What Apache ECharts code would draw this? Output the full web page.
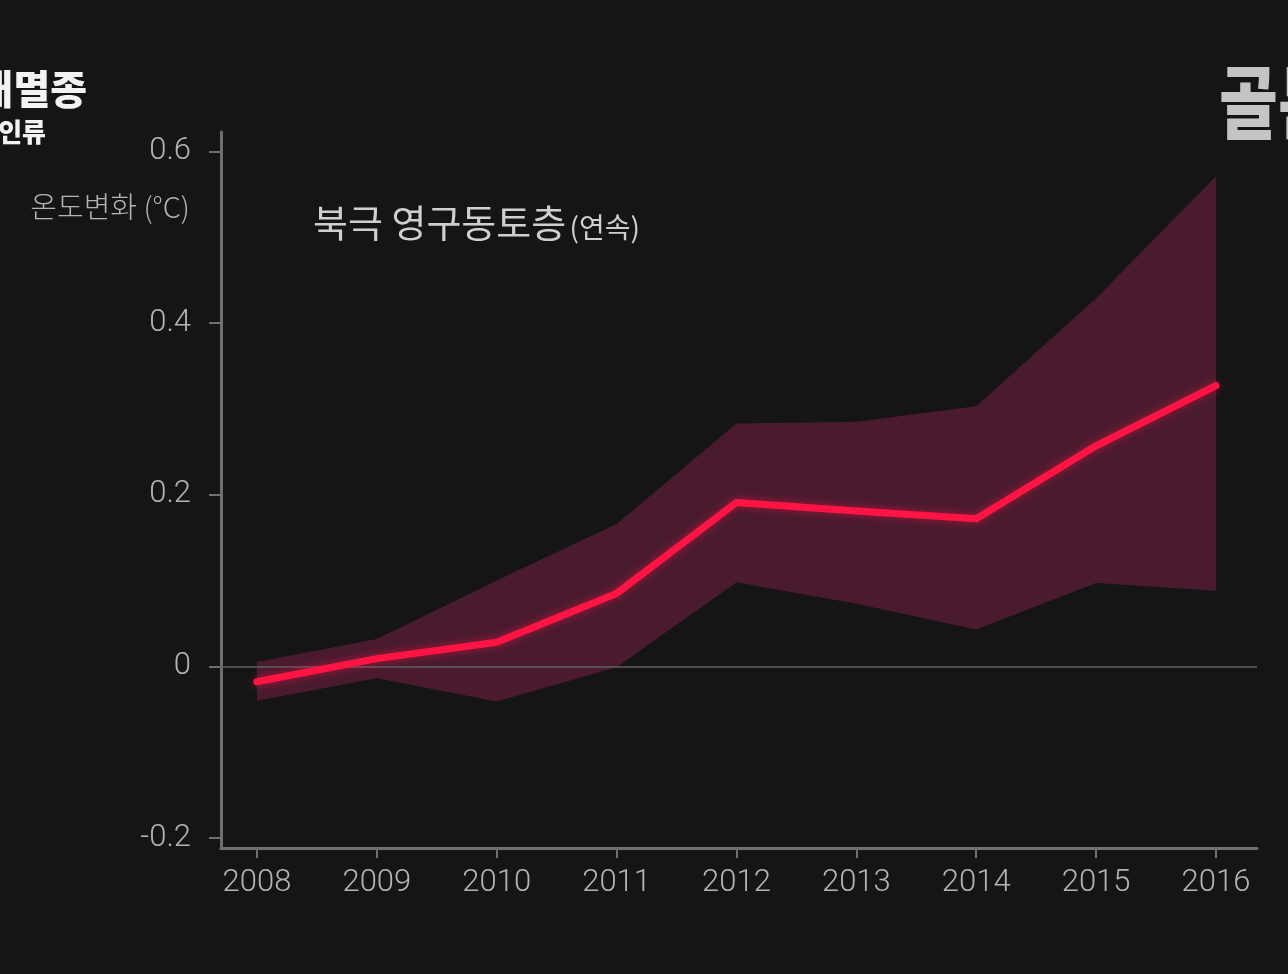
<!DOCTYPE html>
<html>
<head>
<meta charset="utf-8">
<script src="https://cdn.jsdelivr.net/npm/echarts@6/dist/echarts.min.js"></script>
<style>
html,body{margin:0;padding:0;background:#151515;}
#c{width:1288px;height:974px;}
</style>
</head>
<body>
<div id="c"></div>
<script>
const years = [2008, 2009, 2010, 2011, 2012, 2013, 2014, 2015, 2016];
const meanChange = [-0.018, 0.009, 0.028, 0.085, 0.191, 0.181, 0.172, 0.257, 0.327];
const upperBound = [0.005, 0.032, 0.100, 0.166, 0.283, 0.285, 0.303, 0.429, 0.571];
const lowerBound = [-0.040, -0.014, -0.041, -0.001, 0.098, 0.073, 0.043, 0.097, 0.088];
const yTicks = [-0.2, 0, 0.2, 0.4, 0.6];
const yTickLabels = ['-0.2', '0', '0.2', '0.4', '0.6'];

const chart = echarts.init(document.getElementById('c'), null, {renderer: 'canvas'});
const labelFont = 'Roboto, "Noto Sans", sans-serif';
const axisGrey = '#6f6f6f';
const cjk = '"Noto Sans CJK KR", sans-serif';

chart.setOption({
  backgroundColor: '#151515',
  animation: false,
  grid: {left: 221, right: 31, top: 132, bottom: 126, containLabel: false, outerBoundsMode: 'none'},
  xAxis: {
    type: 'value', min: 2007.70, max: 2016.342,
    splitLine: {show: false},
    axisLine: {show: true, onZero: false, lineStyle: {color: axisGrey, width: 3}},
    axisTick: {show: true, customValues: years, length: 10, lineStyle: {color: axisGrey, width: 2}},
    axisLabel: {customValues: years, color: '#b4b4b4', fontSize: 31, fontWeight: 300, fontFamily: labelFont, margin: 20,
      formatter: v => String(Math.round(v))}
  },
  yAxis: {
    type: 'value', min: -0.2117, max: 0.6227,
    splitLine: {show: false},
    axisLine: {show: true, onZero: false, lineStyle: {color: axisGrey, width: 3}},
    axisTick: {show: true, customValues: yTicks, length: 12, lineStyle: {color: axisGrey, width: 2}},
    axisLabel: {customValues: yTicks, color: '#b4b4b4', fontSize: 31, fontWeight: 300, fontFamily: labelFont, margin: 30,
      formatter: v => { const i = yTicks.findIndex(t => Math.abs(t - v) < 1e-6); return i >= 0 ? yTickLabels[i] : ''; }}
  },
  graphic: [
    {type: 'text', x: 190, y: 207, style: {text: '온도변화 (°C)', fill: '#b4b4b4', align: 'right', verticalAlign: 'middle', font: '300 29px ' + cjk}},
    {type: 'text', x: 313, y: 223, style: {
      text: '{a|북극 영구동토층} {b|(연속)}', verticalAlign: 'middle',
      rich: {
        a: {fill: '#cfcfcf', fontSize: 38, fontFamily: cjk, fontWeight: 400},
        b: {fill: '#cfcfcf', fontSize: 28, fontFamily: cjk, fontWeight: 400, padding: [8, 0, 0, 0]}
      }}},
    {type: 'text', x: 87, y: 89, style: {text: '대멸종', fill: '#f2f2f2', align: 'right', verticalAlign: 'middle', font: '900 40px ' + cjk}},
    {type: 'text', x: 46, y: 132, style: {text: '인류', fill: '#f2f2f2', align: 'right', verticalAlign: 'middle', font: '900 26px ' + cjk}},
    {type: 'text', x: 1219, y: 102, scaleY: 1.25, originY: 0, style: {text: '골든', fill: '#c4c4c4', verticalAlign: 'middle', font: '900 64px ' + cjk}}
  ],
  series: [
    {
      type: 'custom',
      name: 'band',
      data: years.map((y, i) => [y, upperBound[i], lowerBound[i]]),
      renderItem: function (params, api) {
        if (params.dataIndex !== 0) return null;
        const pts = [];
        for (let i = 0; i < years.length; i++) pts.push(api.coord([years[i], upperBound[i]]));
        for (let i = years.length - 1; i >= 0; i--) pts.push(api.coord([years[i], lowerBound[i]]));
        return {type: 'polygon', shape: {points: pts}, style: {fill: '#4a1b2f'}};
      },
      z: 1
    },
    {
      type: 'line',
      name: 'mean',
      data: years.map((y, i) => [y, meanChange[i]]),
      symbol: 'none',
      lineStyle: {color: '#ff1443', width: 7, cap: 'round', join: 'round', shadowBlur: 8, shadowColor: 'rgba(255,20,67,0.55)'},
      z: 3,
      markLine: {
        silent: true, symbol: 'none', label: {show: false},
        lineStyle: {color: '#606060', width: 1.5, type: 'solid'},
        data: [{yAxis: 0}],
        z: 2
      }
    }
  ]
});
</script>
</body>
</html>
